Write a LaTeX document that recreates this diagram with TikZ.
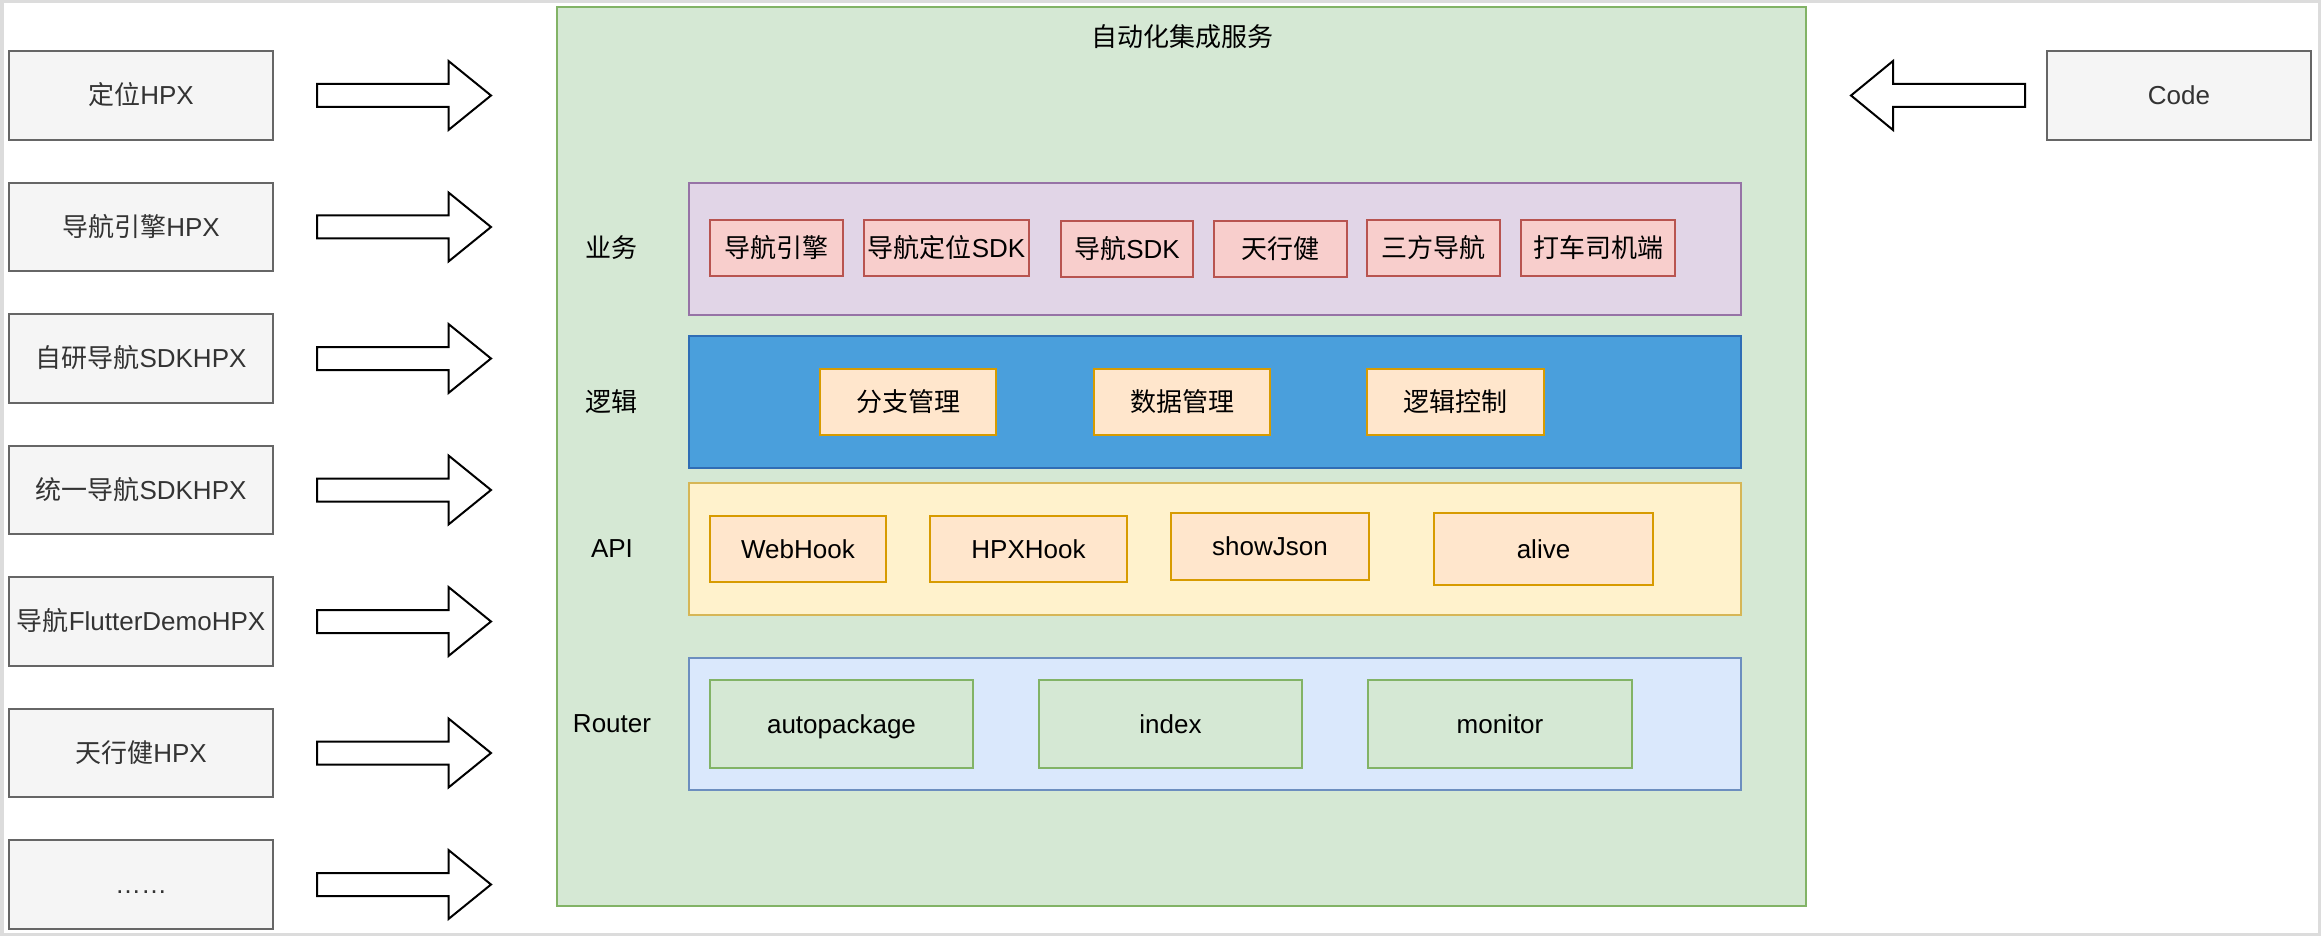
\documentclass[tikz,border=0pt]{standalone}
\usepackage{fontspec}
\setmainfont{Liberation Sans}
\newfontfamily\cjk{Noto Sans CJK SC}
\newcommand\zh[1]{{\cjk #1}}

\definecolor{frameGray}{HTML}{DCDCDC}
\definecolor{srcFill}{HTML}{F5F5F5}
\definecolor{srcLine}{HTML}{666666}
\definecolor{srcText}{HTML}{333333}
\definecolor{greenFill}{HTML}{D5E8D4}
\definecolor{greenLine}{HTML}{82B366}
\definecolor{purpleFill}{HTML}{E1D5E7}
\definecolor{purpleLine}{HTML}{9673A6}
\definecolor{redFill}{HTML}{F8CECC}
\definecolor{redLine}{HTML}{B85450}
\definecolor{blueFill}{HTML}{4A9FDC}
\definecolor{blueLine}{HTML}{2F6DB5}
\definecolor{orangeFill}{HTML}{FFE6CC}
\definecolor{orangeLine}{HTML}{D79B00}
\definecolor{yellowFill}{HTML}{FFF2CC}
\definecolor{yellowLine}{HTML}{D6B656}
\definecolor{routerFill}{HTML}{DAE8FC}
\definecolor{routerLine}{HTML}{6C8EBF}

\begin{document}
\begin{tikzpicture}[x=1pt,y=-1pt,
	every node/.style={font=\fontsize{26}{30}\selectfont,inner sep=0pt,text height=22.5pt,text depth=4pt},
	srcBox/.style={draw=srcLine,fill=srcFill,text=srcText,line width=2pt,minimum width=264,minimum height=88.5},
	serviceBox/.style={draw=greenLine,fill=greenFill,line width=2pt},
	bizLayer/.style={draw=purpleLine,fill=purpleFill,line width=2pt},
	bizBox/.style={draw=redLine,fill=redFill,line width=2pt},
	logicLayer/.style={draw=blueLine,fill=blueFill,line width=2pt},
	apiLayer/.style={draw=yellowLine,fill=yellowFill,line width=2pt},
	funcBox/.style={draw=orangeLine,fill=orangeFill,line width=2pt},
	routerLayer/.style={draw=routerLine,fill=routerFill,line width=2pt},
	routeBox/.style={draw=greenLine,fill=greenFill,line width=2pt},
	blockArrow/.style={draw=black,fill=white,line width=2pt,line join=miter}]

\useasboundingbox (0,0) rectangle (2321,936);
\draw[frameGray,line width=3.5pt] (1.75,1.75) rectangle (2319.25,934.25);

\newcommand\drawBox[7]{\node[#1,minimum width={#4-#2},minimum height={#5-#3}] (#6) at ({(#2+#4)/2},{(#3+#5)/2}) {#7};}
\newcommand\drawArrow[4]{\draw[blockArrow] ({#1},{#4-11.5}) -- ({#2},{#4-11.5}) -- ({#2},{#4-34.5}) -- ({#3},{#4}) -- ({#2},{#4+34.5}) -- ({#2},{#4+11.5}) -- ({#1},{#4+11.5}) -- cycle;}

% inputs on the left
\foreach \lbl [count=\i] in {{\zh{定位}HPX},{\zh{导航引擎}HPX},{\zh{自研导航}SDKHPX},{\zh{统一导航}SDKHPX},{\zh{导航}FlutterDemoHPX},{\zh{天行健}HPX},{……}}
{
	\pgfmathsetmacro\yc{95.5+131.5*(\i-1)}
	\node[srcBox] (src\i) at (141,\yc) {\lbl};
	\drawArrow{317}{448.5}{491}{\yc}
}

% service
\drawBox{serviceBox}{557}{7.5}{1806}{906}{service}{}
\node (title) at (1182,37) {\zh{自动化集成服务}};

\drawBox{bizLayer}{689}{183}{1741}{315}{biz}{}
\drawBox{logicLayer}{689}{336}{1741}{468}{logic}{}
\drawBox{apiLayer}{689}{483}{1741}{615}{api}{}
\drawBox{routerLayer}{689}{658}{1741}{790}{router}{}

\node (bizLbl) at (611,248) {\zh{业务}};
\node (logicLbl) at (611,402) {\zh{逻辑}};
\node (apiLbl) at (612,548) {API};
\node (routerLbl) at (612,723) {Router};

\drawBox{bizBox}{710}{220}{843}{276}{navEngine}{\zh{导航引擎}}
\drawBox{bizBox}{864}{220}{1029}{276}{navLocSdk}{\zh{导航定位}SDK}
\drawBox{bizBox}{1061}{221}{1193}{277}{navSdk}{\zh{导航}SDK}
\drawBox{bizBox}{1214}{221}{1347}{277}{txj}{\zh{天行健}}
\drawBox{bizBox}{1367}{220}{1500}{276}{thirdNav}{\zh{三方导航}}
\drawBox{bizBox}{1521}{220}{1675}{276}{driver}{\zh{打车司机端}}

\drawBox{funcBox}{820}{369}{996}{435}{branch}{\zh{分支管理}}
\drawBox{funcBox}{1094}{369}{1270}{435}{data}{\zh{数据管理}}
\drawBox{funcBox}{1367}{369}{1544}{435}{control}{\zh{逻辑控制}}

\drawBox{funcBox}{710}{516}{886}{582}{webhook}{WebHook}
\drawBox{funcBox}{930}{516}{1127}{582}{hpxhook}{HPXHook}
\drawBox{funcBox}{1171}{513}{1369}{580}{showjson}{showJson}
\drawBox{funcBox}{1434}{513}{1653}{585}{alive}{alive}

\drawBox{routeBox}{710}{680}{973}{768}{autopackage}{autopackage}
\drawBox{routeBox}{1039}{680}{1302}{768}{index}{index}
\drawBox{routeBox}{1368}{680}{1632}{768}{monitor}{monitor}

% code on the right
\drawBox{srcBox}{2047}{51}{2311}{140}{code}{Code}
\drawArrow{2025}{1893}{1851}{95.5}

\end{tikzpicture}
\end{document}
